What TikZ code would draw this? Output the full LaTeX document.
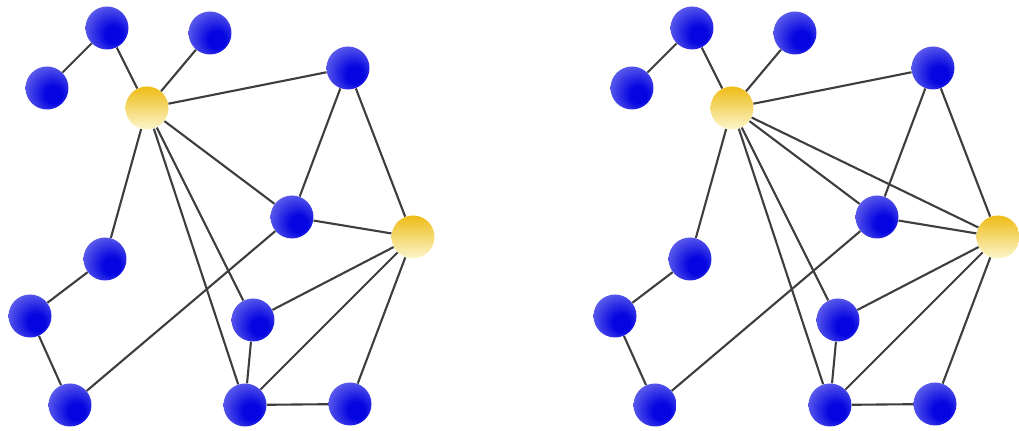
\documentclass[tikz,border=0pt]{standalone}
\usepackage{tikz}
\usetikzlibrary{shadings}

\definecolor{linegray}{RGB}{62,62,62}
\definecolor{peerdeep}{RGB}{5,5,225}
\definecolor{peermid}{RGB}{85,85,234}
\definecolor{peerrim}{RGB}{155,155,245}
\definecolor{hubtop}{RGB}{238,188,22}
\definecolor{hubbot}{RGB}{252,246,205}

\pgfdeclareradialshading{bluefade}{\pgfpoint{9bp}{-9bp}}{%
  color(0bp)=(peerdeep); color(10bp)=(peerdeep); color(30bp)=(peermid);
  color(50bp)=(peerrim); color(62bp)=(peerrim)}

\begin{document}
\begin{tikzpicture}[
        x=0.02cm, y=-0.02cm,
        edge/.style={draw=linegray, line width=1.2pt},
        peer/.style={circle, minimum size=0.86cm, inner sep=0pt, shade, shading=bluefade},
        hub/.style={circle, minimum size=0.86cm, inner sep=0pt, top color=hubtop, bottom color=hubbot}
    ]
        \useasboundingbox (0,0) rectangle (1019,431);

        % Two copies of the same network, the right one shifted
        \foreach \g/\dx in {l/0, r/585} {
            \begin{scope}[shift={(\dx,0)}]
                % Hubs
                \node[hub] (\g-hub1) at (147,108) {};
                \node[hub] (\g-hub2) at (413,237) {};

                % Ordinary nodes
                \node[peer] (\g-a) at (107,28) {};
                \node[peer] (\g-b) at (210,33) {};
                \node[peer] (\g-c) at (47,88) {};
                \node[peer] (\g-d) at (348,68) {};
                \node[peer] (\g-e) at (292,217) {};
                \node[peer] (\g-f) at (105,259) {};
                \node[peer] (\g-g) at (30,316) {};
                \node[peer] (\g-h) at (253,320) {};
                \node[peer] (\g-i) at (70,405) {};
                \node[peer] (\g-j) at (245,405) {};
                \node[peer] (\g-k) at (350,404) {};

                % Links
                \foreach \p/\q in {c/a, a/hub1, b/hub1, hub1/d, hub1/f, hub1/e, hub1/h, hub1/j,
                                   d/e, d/hub2, e/hub2, e/i, hub2/h, hub2/j, hub2/k,
                                   h/j, j/k, g/f, g/i}
                    \draw[edge] (\g-\p) -- (\g-\q);
            \end{scope}
        }

        % Extra link in the right network
        \draw[edge] (r-hub1) -- (r-hub2);

    \end{tikzpicture}
\end{document}
